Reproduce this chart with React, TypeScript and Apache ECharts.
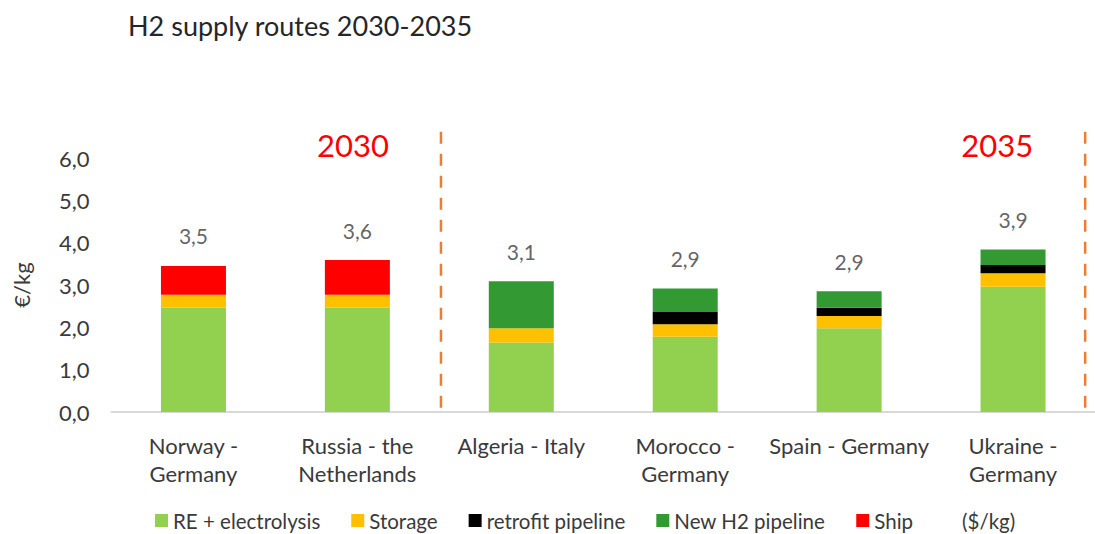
import React, { useEffect, useRef } from 'react';
import * as echarts from 'echarts';

const categories = [
  'Norway -\nGermany',
  'Russia - the\nNetherlands',
  'Algeria - Italy',
  'Morocco -\nGermany',
  'Spain - Germany',
  'Ukraine -\nGermany',
];
const reElectrolysis = [2.47, 2.47, 1.64, 1.78, 1.98, 2.96];
const storage = [0.3, 0.3, 0.34, 0.29, 0.29, 0.32];
const retrofitPipeline = [0, 0, 0, 0.29, 0.19, 0.19];
const newH2Pipeline = [0, 0, 1.11, 0.56, 0.39, 0.37];
const ship = [0.68, 0.82, 0, 0, 0, 0];
const totalLabels = ['3,5', '3,6', '3,1', '2,9', '2,9', '3,9'];
const seriesNames = ['RE + electrolysis', 'Storage', 'retrofit pipeline', 'New H2 pipeline', 'Ship'];
const seriesColors = ['#92D050', '#FFC000', '#000000', '#339933', '#FF0000'];
const periodLabels = ['2030', '2035'];
const unitNote = '($/kg)';

const FONT = 'Lato, "Open Sans", sans-serif';
const TEXT = '#3A3A3A';

export default function App() {
  const ref = useRef<HTMLDivElement>(null);

  useEffect(() => {
    document.body.style.margin = '0';
    if (!ref.current) return;
    const chart = echarts.init(ref.current, null, { renderer: 'svg' });
    const stacks = [reElectrolysis, storage, retrofitPipeline, newH2Pipeline, ship];
    const totals = categories.map((_, i) => stacks.reduce((s, arr) => s + arr[i], 0));

    const option: any = {
      animation: false,
      textStyle: { fontFamily: FONT },
      title: {
        text: 'H2 supply routes 2030-2035',
        left: 123,
        top: 7,
        textStyle: { fontFamily: FONT, fontSize: 27, fontWeight: 'normal', color: '#262626' },
      },
      grid: { left: 111.5, top: 158, width: 990, height: 254, containLabel: false },
      legend: {
        data: [...seriesNames, unitNote],
        left: 150,
        top: 505,
        itemWidth: 13,
        itemHeight: 13,
        itemGap: 31,
        icon: 'rect',
        textStyle: { fontFamily: FONT, fontSize: 20.5, color: TEXT },
      },
      xAxis: {
        type: 'category',
        data: categories,
        axisLine: { show: true, lineStyle: { color: '#D9D9D9', width: 2 } },
        axisTick: { show: false },
        axisLabel: {
          fontFamily: FONT,
          fontSize: 22,
          color: TEXT,
          lineHeight: 28,
          margin: 19,
          interval: 0,
        },
      },
      yAxis: {
        type: 'value',
        min: 0,
        max: 6,
        interval: 1,
        name: '€/kg',
        nameLocation: 'middle',
        nameGap: 79,
        nameRotate: 90,
        nameTextStyle: { fontFamily: FONT, fontSize: 22, color: TEXT },
        axisLine: { show: false },
        axisTick: { show: false },
        splitLine: { show: false },
        axisLabel: {
          fontFamily: FONT,
          fontSize: 22,
          color: TEXT,
          margin: 22,
          formatter: (v: number) => v.toFixed(1).replace('.', ','),
        },
      },
      series: [
        ...stacks.map((arr, k) => ({
          name: seriesNames[k],
          type: 'bar',
          stack: 'total',
          barWidth: 65,
          data: arr,
          itemStyle: { color: seriesColors[k] },
        })),
        {
          name: unitNote,
          type: 'bar',
          stack: 'total',
          data: [],
          itemStyle: { color: 'transparent' },
        },
        {
          name: 'totals',
          type: 'scatter',
          data: totals,
          symbolSize: 1,
          itemStyle: { color: 'transparent' },
          silent: true,
          label: {
            show: true,
            position: 'top',
            distance: 19,
            fontFamily: FONT,
            fontSize: 21,
            color: TEXT,
            formatter: (p: any) => totalLabels[p.dataIndex],
          },
        },
      ],
    };
    chart.setOption(option);

    // dividers and period labels, placed through the axes' own scales
    const cx = (i: number) => chart.convertToPixel({ xAxisIndex: 0 }, i) as number;
    const py = (v: number) => chart.convertToPixel({ yAxisIndex: 0 }, v) as number;
    const step = cx(1) - cx(0);
    const dividerX = [cx(1) + step * 0.51, cx(5) + step * 0.44];
    const yBottom = py(0);
    const yTop = py(6.62);
    const labelY = py(6.31);
    const graphic: any[] = [];
    dividerX.forEach((x, i) => {
      graphic.push({
        type: 'line',
        shape: { x1: x, y1: yTop, x2: x, y2: yBottom },
        style: { stroke: '#ED7D31', lineWidth: 2.5, lineDash: [12, 10] },
        silent: true,
      });
      graphic.push({
        type: 'text',
        x: x - 88,
        y: labelY,
        style: {
          text: periodLabels[i],
          fill: '#FF0000',
          fontFamily: FONT,
          fontSize: 31,
          align: 'center',
          verticalAlign: 'middle',
        },
        silent: true,
      });
    });
    chart.setOption({ graphic });

    return () => chart.dispose();
  }, []);

  return <div ref={ref} style={{ width: 1095, height: 534 }} />;
}
